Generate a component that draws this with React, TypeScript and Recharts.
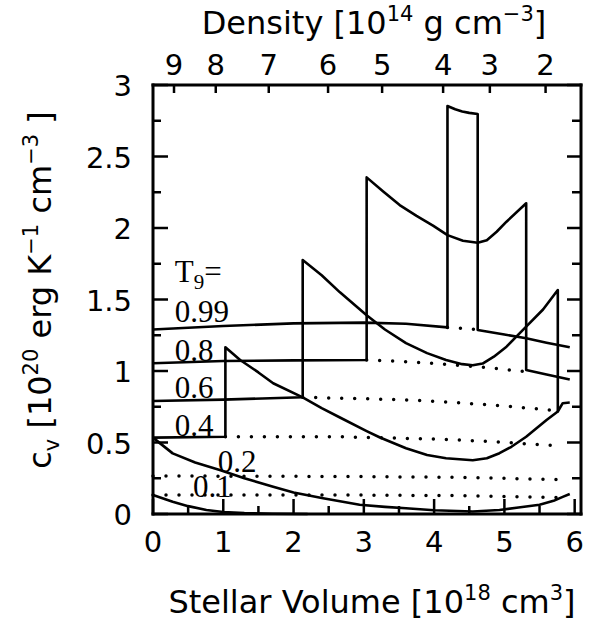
import React from 'react';
import { ComposedChart, Line, Scatter, XAxis, YAxis } from 'recharts';

// bottom axis: stellar volume [1e18 cm^3]
const volumeTicks = [0, 0.5, 1, 1.5, 2, 2.5, 3, 3.5, 4, 4.5, 5, 5.5, 6];
// left / right axis: c_v [1e20 erg K^-1 cm^-3]
const cvTicks = [0, 0.25, 0.5, 0.75, 1, 1.25, 1.5, 1.75, 2, 2.25, 2.5, 2.75, 3];
// top axis: density labels and the volume they sit at
const densityLabels = [9, 8, 7, 6, 5, 4, 3, 2];
const densityVolumes = [0.299, 0.893, 1.647, 2.491, 3.26, 4.128, 4.793, 5.586];

// solid curves (equilibrium path, with the jumps)
const t099 = [
  { x: 0, y: 1.29 }, { x: 1, y: 1.315 }, { x: 2, y: 1.333 }, { x: 3, y: 1.338 },
  { x: 3.6, y: 1.33 }, { x: 4.19, y: 1.305 }, { x: 4.19, y: 2.853 }, { x: 4.3, y: 2.83 },
  { x: 4.4, y: 2.815 }, { x: 4.5, y: 2.805 }, { x: 4.62, y: 2.797 }, { x: 4.62, y: 1.287 },
  { x: 5.0, y: 1.255 }, { x: 5.31, y: 1.229 }, { x: 5.6, y: 1.198 }, { x: 5.93, y: 1.166 },
];
const t08 = [
  { x: 0, y: 1.054 }, { x: 1, y: 1.07 }, { x: 2, y: 1.074 }, { x: 3.04, y: 1.077 },
  { x: 3.04, y: 2.354 }, { x: 3.28, y: 2.254 }, { x: 3.51, y: 2.16 }, { x: 3.75, y: 2.085 },
  { x: 3.99, y: 2.015 }, { x: 4.19, y: 1.95 }, { x: 4.41, y: 1.911 }, { x: 4.62, y: 1.897 },
  { x: 4.75, y: 1.915 }, { x: 4.89, y: 1.974 }, { x: 5.03, y: 2.044 }, { x: 5.31, y: 2.173 },
  { x: 5.31, y: 1.007 }, { x: 5.6, y: 0.975 }, { x: 5.93, y: 0.94 },
];
const t06 = [
  { x: 0, y: 0.79 }, { x: 1, y: 0.8 }, { x: 2.13, y: 0.816 }, { x: 2.13, y: 1.776 },
  { x: 2.4, y: 1.67 }, { x: 2.66, y: 1.55 }, { x: 3.04, y: 1.39 }, { x: 3.3, y: 1.29 },
  { x: 3.6, y: 1.195 }, { x: 3.9, y: 1.125 }, { x: 4.17, y: 1.077 }, { x: 4.4, y: 1.048 },
  { x: 4.55, y: 1.04 }, { x: 4.69, y: 1.052 }, { x: 4.85, y: 1.1 }, { x: 5.03, y: 1.17 },
  { x: 5.31, y: 1.31 }, { x: 5.55, y: 1.43 }, { x: 5.76, y: 1.566 }, { x: 5.76, y: 0.717 },
  { x: 5.83, y: 0.775 }, { x: 5.93, y: 0.78 },
];
const t04 = [
  { x: 0, y: 0.534 }, { x: 1.03, y: 0.54 }, { x: 1.03, y: 1.166 }, { x: 1.24, y: 1.077 },
  { x: 1.5, y: 0.99 }, { x: 1.71, y: 0.914 }, { x: 2.13, y: 0.816 }, { x: 2.4, y: 0.74 },
  { x: 2.66, y: 0.675 }, { x: 3.04, y: 0.58 }, { x: 3.23, y: 0.535 }, { x: 3.6, y: 0.46 },
  { x: 3.9, y: 0.412 }, { x: 4.17, y: 0.39 }, { x: 4.55, y: 0.376 }, { x: 4.75, y: 0.39 },
  { x: 4.93, y: 0.425 }, { x: 5.1, y: 0.47 }, { x: 5.31, y: 0.54 }, { x: 5.6, y: 0.657 },
  { x: 5.76, y: 0.717 },
];
const t02 = [
  { x: 0, y: 0.534 }, { x: 0.28, y: 0.424 }, { x: 0.6, y: 0.36 }, { x: 0.95, y: 0.308 },
  { x: 1.3, y: 0.25 }, { x: 1.71, y: 0.19 }, { x: 2.0, y: 0.15 }, { x: 2.42, y: 0.11 },
  { x: 2.94, y: 0.065 }, { x: 3.3, y: 0.05 }, { x: 3.6, y: 0.04 }, { x: 4.0, y: 0.026 },
  { x: 4.55, y: 0.018 }, { x: 4.93, y: 0.028 }, { x: 5.2, y: 0.045 }, { x: 5.5, y: 0.065 },
  { x: 5.7, y: 0.092 }, { x: 5.83, y: 0.12 }, { x: 5.93, y: 0.14 },
];
const t01 = [
  { x: 0, y: 0.133 }, { x: 0.28, y: 0.086 }, { x: 0.5, y: 0.055 }, { x: 0.76, y: 0.028 },
  { x: 1.0, y: 0.014 }, { x: 1.3, y: 0.006 }, { x: 1.7, y: 0.002 }, { x: 2.2, y: 0 },
];

// dotted curves (continuation without the transition)
const d099 = [{ x: 4.19, y: 1.305 }, { x: 4.62, y: 1.29 }];
const d08 = [
  { x: 3.04, y: 1.077 }, { x: 3.6, y: 1.065 }, { x: 4.1, y: 1.05 }, { x: 4.84, y: 1.02 },
  { x: 5.31, y: 0.995 },
];
const d06 = [
  { x: 2.13, y: 0.816 }, { x: 2.66, y: 0.81 }, { x: 3.5, y: 0.8 }, { x: 4.08, y: 0.786 },
  { x: 4.84, y: 0.762 }, { x: 5.7, y: 0.725 },
];
const d04 = [
  { x: 1.03, y: 0.54 }, { x: 2.66, y: 0.54 }, { x: 4.08, y: 0.523 }, { x: 4.84, y: 0.506 },
  { x: 5.79, y: 0.476 },
];
const d02 = [{ x: 0, y: 0.266 }, { x: 3, y: 0.262 }, { x: 4.5, y: 0.255 }, { x: 5.79, y: 0.24 }];
const d01 = [{ x: 0, y: 0.133 }, { x: 3, y: 0.132 }, { x: 4.5, y: 0.128 }, { x: 5.75, y: 0.115 }];

const solidSeries = [t099, t08, t06, t04, t02, t01];
const dottedSeries = [d099, d08, d06, d04, d02, d01];

// temperature labels, anchored in data coordinates (left end of baseline)
const curveLabels = [
  { x: 0.31, y: 1.624, text: 'T9=' },
  { x: 0.31, y: 1.341, text: '0.99' },
  { x: 0.31, y: 1.072, text: '0.8' },
  { x: 0.31, y: 0.809, text: '0.6' },
  { x: 0.31, y: 0.547, text: '0.4' },
  { x: 0.92, y: 0.296, text: '0.2' },
  { x: 0.57, y: 0.121, text: '0.1' },
];

const SANS = '"DejaVu Sans", sans-serif';
const SERIF = '"Liberation Serif", "Times New Roman", serif';
const TICK_FONT = 29;

const fmt = (v: number) => String(v);

const BottomTick = ({ x, y, payload }: any) => {
  const v = payload.value;
  const major = Number.isInteger(v);
  return (
    <g>
      <line x1={x} y1={y} x2={x} y2={y - (major ? 15 : 8)} stroke="#000" strokeWidth={2.5} />
      {major && (
        <text x={x} y={y + 38} textAnchor="middle" fontFamily={SANS} fontSize={TICK_FONT} fill="#000">
          {fmt(v)}
        </text>
      )}
    </g>
  );
};

const TopTick = ({ x, y, payload }: any) => {
  const i = densityVolumes.findIndex((v) => Math.abs(v - payload.value) < 1e-6);
  return (
    <g>
      <line x1={x} y1={y} x2={x} y2={y + 8} stroke="#000" strokeWidth={2.5} />
      <text x={x} y={y - 10} textAnchor="middle" fontFamily={SANS} fontSize={TICK_FONT} fill="#000">
        {densityLabels[i]}
      </text>
    </g>
  );
};

const LeftTick = ({ x, y, payload }: any) => {
  const v = payload.value;
  const major = Math.abs(v * 2 - Math.round(v * 2)) < 1e-6;
  return (
    <g>
      <line x1={x} y1={y} x2={x + (major ? 15 : 8)} y2={y} stroke="#000" strokeWidth={2.5} />
      {major && (
        <text x={x - 21} y={y + 11} textAnchor="end" fontFamily={SANS} fontSize={TICK_FONT} fill="#000">
          {fmt(v)}
        </text>
      )}
    </g>
  );
};

const RightTick = ({ x, y, payload }: any) => {
  const v = payload.value;
  const major = Math.abs(v * 2 - Math.round(v * 2)) < 1e-6;
  return <line x1={x} y1={y} x2={x - (major ? 14 : 9)} y2={y} stroke="#000" strokeWidth={2.5} />;
};

const CurveLabel = ({ cx, cy, payload }: any) => {
  if (payload.text === 'T9=') {
    return (
      <text x={cx} y={cy} fontFamily={SERIF} fontSize={31} fill="#000">
        T<tspan fontSize={21} dy={7}>9</tspan>
        <tspan dy={-7}>=</tspan>
      </text>
    );
  }
  return (
    <text x={cx} y={cy} fontFamily={SERIF} fontSize={31} fill="#000">
      {payload.text}
    </text>
  );
};

const axisLine = { stroke: '#000', strokeWidth: 3, strokeLinecap: 'square' as const };

export default function App() {
  return (
    <div style={{ position: 'absolute', left: 0, top: 0, width: 590, height: 628, background: '#fff' }}>
      <ComposedChart width={590} height={628} margin={{ top: 84, right: 8, bottom: 113, left: 152 }}>
        <XAxis
          xAxisId={0}
          dataKey="x"
          type="number"
          domain={[0, 6.09]}
          ticks={volumeTicks}
          interval={0}
          height={1}
          tickSize={0}
          tickMargin={0}
          tickLine={false}
          axisLine={axisLine}
          tick={<BottomTick />}
        />
        <XAxis
          xAxisId="top"
          orientation="top"
          dataKey="x"
          type="number"
          domain={[0, 6.09]}
          allowDataOverflow
          ticks={densityVolumes}
          interval={0}
          height={1}
          tickSize={0}
          tickMargin={0}
          tickLine={false}
          axisLine={axisLine}
          tick={<TopTick />}
        />
        <YAxis
          yAxisId={0}
          type="number"
          domain={[0, 3]}
          ticks={cvTicks}
          interval={0}
          width={1}
          tickSize={0}
          tickMargin={0}
          tickLine={false}
          axisLine={axisLine}
          tick={<LeftTick />}
        />
        <YAxis
          yAxisId="r"
          orientation="right"
          type="number"
          domain={[0, 3]}
          allowDataOverflow
          ticks={cvTicks}
          interval={0}
          width={1}
          tickSize={0}
          tickMargin={0}
          tickLine={false}
          axisLine={axisLine}
          tick={<RightTick />}
        />
        {dottedSeries.map((d, i) => (
          <Line
            key={'d' + i}
            data={d}
            dataKey="y"
            type="linear"
            stroke="#000"
            strokeWidth={3.5}
            strokeDasharray="0 13"
            strokeLinecap="round"
            dot={false}
            isAnimationActive={false}
          />
        ))}
        {solidSeries.map((d, i) => (
          <Line
            key={'s' + i}
            data={d}
            dataKey="y"
            type="linear"
            stroke="#000"
            strokeWidth={2.6}
            strokeLinejoin="round"
            dot={false}
            isAnimationActive={false}
          />
        ))}
        {/* same volume scale on the top axis, so the labels can hang on it */}
        <Scatter
          data={curveLabels}
          xAxisId="top"
          yAxisId="r"
          dataKey="y"
          shape={<CurveLabel />}
          isAnimationActive={false}
        />
      </ComposedChart>
      <svg
        width={590}
        height={628}
        style={{ position: 'absolute', left: 0, top: 0, pointerEvents: 'none' }}
        fontFamily={SANS}
        fontSize={32}
      >
        <text x={374} y={34} textAnchor="middle">
          Density [10<tspan fontSize={21} dy={-13}>14</tspan>
          <tspan dy={13}> g cm</tspan>
          <tspan fontSize={21} dy={-13}>−3</tspan>
          <tspan dy={13}>]</tspan>
        </text>
        <text x={372} y={613} textAnchor="middle">
          Stellar Volume [10<tspan fontSize={21} dy={-13}>18</tspan>
          <tspan dy={13}> cm</tspan>
          <tspan fontSize={21} dy={-13}>3</tspan>
          <tspan dy={13}>]</tspan>
        </text>
        <text x={51} y={290} textAnchor="middle" transform="rotate(-90 51 290)">
          c<tspan fontSize={21} dy={8}>v</tspan>
          <tspan dy={-8}> [10</tspan>
          <tspan fontSize={21} dy={-13}>20</tspan>
          <tspan dy={13}> erg K</tspan>
          <tspan fontSize={21} dy={-13}>−1</tspan>
          <tspan dy={13}> cm</tspan>
          <tspan fontSize={21} dy={-13}>−3</tspan>
          <tspan dy={13}> ]</tspan>
        </text>
      </svg>
    </div>
  );
}
